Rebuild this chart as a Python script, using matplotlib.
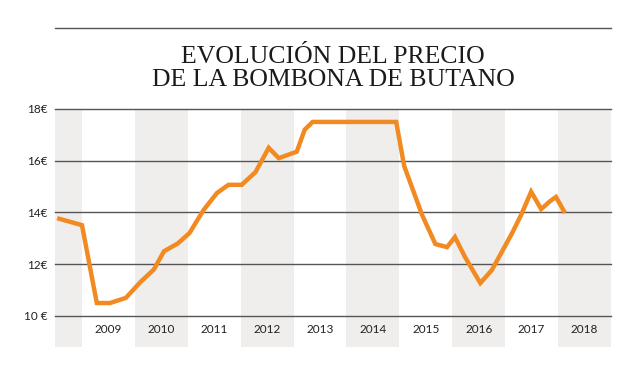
"""Evolución del precio de la bombona de butano (2008-2018)."""

import matplotlib
matplotlib.use("Agg")
import matplotlib.pyplot as plt
from matplotlib.lines import Line2D

# ---------- datos ----------
fechas = [2008.53, 2009.00, 2009.28, 2009.53, 2009.83, 2010.10, 2010.36,
          2010.55, 2010.81, 2011.03, 2011.30, 2011.55, 2011.77, 2012.02,
          2012.28, 2012.53, 2012.72, 2013.06, 2013.21, 2013.36, 2014.94,
          2015.09, 2015.43, 2015.68, 2015.90, 2016.05, 2016.24, 2016.53,
          2016.75, 2017.13, 2017.30, 2017.49, 2017.68, 2017.85, 2017.96,
          2018.13]
precios = [13.78, 13.51, 10.50, 10.50, 10.70, 11.30, 11.80,
           12.50, 12.80, 13.20, 14.10, 14.75, 15.07, 15.07,
           15.56, 16.50, 16.10, 16.35, 17.20, 17.50, 17.50,
           15.80, 13.90, 12.78, 12.66, 13.05, 12.28, 11.27,
           11.78, 13.20, 13.90, 14.80, 14.13, 14.44, 14.60,
           13.98]
anios = list(range(2009, 2019))
anios_sombreados = [2008, 2010, 2012, 2014, 2016, 2018]
ticks_y = [10, 12, 14, 16, 18]
etiquetas_y = ["10 €", "12€", "14€", "16€", "18€"]

NARANJA = "#f28a22"
GRIS_BANDA = "#efeeec"
GRIS_LINEA = "#555555"

W, H = 642, 376
fig = plt.figure(figsize=(W / 100, H / 100), dpi=100)
ax = fig.add_axes([55 / W, 1 - 347 / H, (611 - 55) / W, (347 - 109) / H])
ax.set_xlim(2008.49, 2019.0)
ax.set_ylim(8.8, 18.0)

for a in anios_sombreados:
    ax.axvspan(a, a + 1, color=GRIS_BANDA, lw=0, zorder=0)
for v in ticks_y:
    ax.axhline(v, color=GRIS_LINEA, lw=1.0, zorder=1, clip_on=False)

ax.plot(fechas, precios, color=NARANJA, lw=3.2, solid_joinstyle="miter",
        solid_capstyle="butt", zorder=3)

for a in anios:
    ax.text(a + 0.5, 9.46, str(a), ha="center", va="center",
            fontsize=8.5, family="Lato", color="#222222")

ax.set_yticks(ticks_y)
ax.set_yticklabels(etiquetas_y, fontsize=8.5, family="Lato", color="#222222")
ax.tick_params(axis="y", length=0, pad=5)
ax.set_xticks([])
for s in ax.spines.values():
    s.set_visible(False)

# línea superior y título
fig.add_artist(Line2D([55 / W, 611 / W], [1 - 28 / H, 1 - 28 / H],
                      color=GRIS_LINEA, lw=1.0))
for texto, y in [("EVOLUCIÓN DEL PRECIO", 57), ("DE LA BOMBONA DE BUTANO", 80)]:
    fig.text(333 / W, 1 - y / H, texto, ha="center", va="center",
             fontsize=18.5, family="Liberation Serif", color="#1a1a1a")

fig.savefig("out.png", dpi=100)
